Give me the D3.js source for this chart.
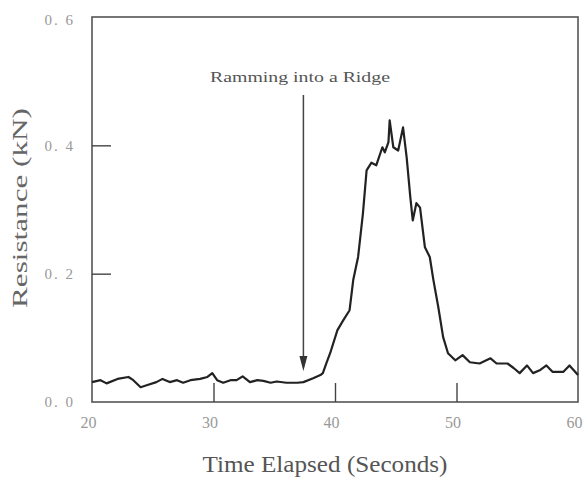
<!DOCTYPE html>
<html>
<head>
<meta charset="utf-8">
<script src="https://cdn.jsdelivr.net/npm/d3@7"></script>
<style>
  html, body { margin: 0; padding: 0; background: #fff; }
  svg { display: block; }
</style>
</head>
<body>
<svg id="chart" width="583" height="488"></svg>
<script>
// ---- data ----
const timeSeconds = [20, 20.7, 21.2, 22.1, 23.0, 23.4, 24.0, 24.5, 25.3, 25.8, 26.4, 27.0, 27.5, 28.1, 28.9, 29.5, 29.9, 30.3, 30.8, 31.4, 31.9, 32.4, 33.0, 33.6, 34.1, 34.7, 35.2, 36.0, 36.9, 37.4, 38.2, 38.8, 39.0, 39.3, 39.6, 40.2, 40.7, 41.2, 41.5, 41.9, 42.3, 42.6, 43.0, 43.4, 43.9, 44.1, 44.4, 44.5, 44.8, 45.2, 45.6, 45.9, 46.2, 46.4, 46.7, 47.0, 47.4, 47.8, 48.1, 48.5, 48.9, 49.3, 49.9, 50.5, 51.1, 51.9, 52.8, 53.3, 54.2, 54.7, 55.2, 55.8, 56.3, 56.9, 57.4, 57.9, 58.8, 59.3, 60];
const resistanceKN = [0.031, 0.034, 0.029, 0.036, 0.039, 0.034, 0.023, 0.026, 0.031, 0.036, 0.031, 0.034, 0.030, 0.034, 0.036, 0.039, 0.045, 0.034, 0.030, 0.034, 0.034, 0.040, 0.031, 0.034, 0.033, 0.030, 0.032, 0.030, 0.030, 0.031, 0.037, 0.042, 0.045, 0.061, 0.076, 0.112, 0.128, 0.143, 0.190, 0.226, 0.294, 0.361, 0.373, 0.369, 0.397, 0.389, 0.405, 0.439, 0.397, 0.392, 0.428, 0.381, 0.319, 0.283, 0.310, 0.303, 0.241, 0.226, 0.190, 0.148, 0.101, 0.076, 0.065, 0.073, 0.062, 0.060, 0.068, 0.060, 0.060, 0.053, 0.045, 0.057, 0.045, 0.050, 0.057, 0.047, 0.047, 0.057, 0.042];
const xTicks = [20, 30, 40, 50, 60];
const yTicks = [0.0, 0.2, 0.4, 0.6];
const annotationText = "Ramming into a Ridge";
const annotationTime = 37.4;
const xTitle = "Time Elapsed (Seconds)";
const yTitle = "Resistance (kN)";

// ---- layout ----
const padL = 92, padR = 578, padT = 17, padB = 402;
const svg = d3.select("#chart");
const x = d3.scaleLinear().domain([20, 60]).range([padL, padR]);
const y = d3.scaleLinear().domain([0, 0.6]).range([padB, padT]);

// frame
svg.append("rect")
  .attr("x", padL).attr("y", padT)
  .attr("width", padR - padL).attr("height", padB - padT)
  .attr("fill", "none").attr("stroke", "#555").attr("stroke-width", 1.6);

// x axis
const xAxis = svg.append("g")
  .attr("transform", `translate(0,${padB})`)
  .call(d3.axisBottom(x).tickValues(xTicks).tickSize(-19).tickPadding(15).tickFormat(d3.format("d")));
xAxis.select(".domain").remove();
xAxis.selectAll(".tick line").attr("stroke", "#444").attr("stroke-width", 1.4)
  .attr("display", d => (d === 20 || d === 60) ? "none" : null);
xAxis.selectAll(".tick text")
  .attr("fill", "#999").attr("font-family", "Liberation Serif, serif").attr("font-size", 16)
  .attr("dx", -4);

// y axis
const yAxis = svg.append("g")
  .attr("transform", `translate(${padL},0)`)
  .call(d3.axisLeft(y).tickValues(yTicks).tickSize(-19).tickPadding(17)
    .tickFormat(d => d3.format(".1f")(d).replace(".", ". ")));
yAxis.select(".domain").remove();
yAxis.selectAll(".tick line").attr("stroke", "#444").attr("stroke-width", 1.4)
  .attr("display", d => (d === 0 || d === 0.6) ? "none" : null);
yAxis.selectAll(".tick text")
  .attr("fill", "#999").attr("font-family", "Liberation Serif, serif").attr("font-size", 15)
  .attr("letter-spacing", 2)
  .attr("transform", d => d === 0.6 ? "translate(0,3)" : null);

// titles
svg.append("text")
  .attr("x", 325).attr("y", 472)
  .attr("text-anchor", "middle")
  .attr("font-family", "Liberation Serif, serif").attr("font-size", 23)
  .attr("textLength", 245).attr("lengthAdjust", "spacingAndGlyphs")
  .attr("fill", "#555").text(xTitle);
svg.append("text")
  .attr("transform", "translate(27,208) rotate(-90)")
  .attr("text-anchor", "middle")
  .attr("font-family", "Liberation Serif, serif").attr("font-size", 22)
  .attr("textLength", 200).attr("lengthAdjust", "spacingAndGlyphs")
  .attr("fill", "#666").text(yTitle);

// data line
const data = timeSeconds.map((t, i) => [t, resistanceKN[i]]);
svg.append("path")
  .datum(data)
  .attr("fill", "none").attr("stroke", "#222").attr("stroke-width", 2.2)
  .attr("stroke-linejoin", "round")
  .attr("d", d3.line().x(d => x(d[0])).y(d => y(d[1])));

// annotation
svg.append("text")
  .attr("x", 300).attr("y", 82)
  .attr("text-anchor", "middle")
  .attr("font-family", "Liberation Serif, serif").attr("font-size", 15)
  .attr("textLength", 180).attr("lengthAdjust", "spacingAndGlyphs")
  .attr("fill", "#555").text(annotationText);
const ax = x(annotationTime);
svg.append("line")
  .attr("x1", ax).attr("x2", ax).attr("y1", 95).attr("y2", 358)
  .attr("stroke", "#444").attr("stroke-width", 1.5);
svg.append("path")
  .attr("d", `M${ax - 4},356 L${ax + 4},356 L${ax},371 Z`)
  .attr("fill", "#333");
</script>
</body>
</html>
